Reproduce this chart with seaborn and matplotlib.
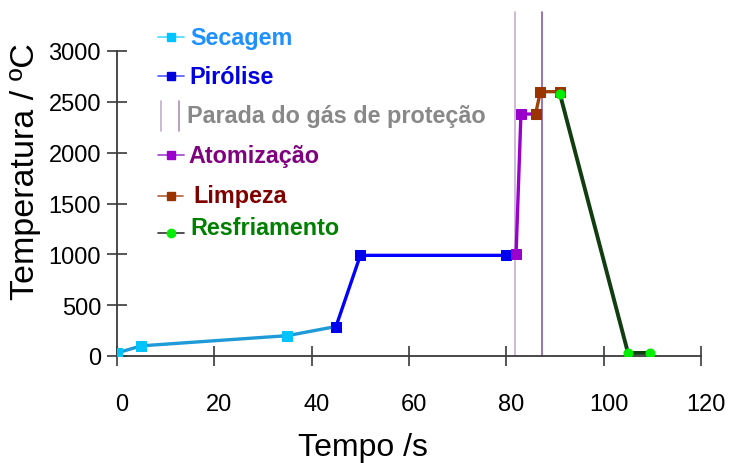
import matplotlib
matplotlib.use("Agg")
import matplotlib.pyplot as plt
from matplotlib.lines import Line2D
from matplotlib.transforms import ScaledTranslation
import seaborn as sns
import pandas as pd

# Furnace temperature program (time in s, temperature in °C)
secagem_t = [0, 5, 35, 45]
secagem_T = [30, 100, 200, 290]
pirolise_t = [45, 50, 80]
pirolise_T = [290, 990, 990]
atomizacao_t = [82, 83, 86]
atomizacao_T = [1000, 2380, 2380]
limpeza_t = [86, 87, 91]
limpeza_T = [2380, 2600, 2600]
resfriamento_t = [91, 105, 109.5]
resfriamento_T = [2580, 30, 30]
# Protective gas stop markers
gas_stop_t = [81.7, 87.3]

x_ticks = [0, 20, 40, 60, 80, 100, 120]
y_ticks = [0, 500, 1000, 1500, 2000, 2500, 3000]

sns.set_style("white")
plt.rcParams["font.family"] = ["Liberation Sans", "DejaVu Sans"]

W, H = 733, 464
fig = plt.figure(figsize=(W / 100, H / 100), dpi=100)
ax = fig.add_axes([117 / W, 1 - 357 / H, (701 - 117) / W, (357 - 52) / H])

def seg(t, T, line_color, mk, mk_color, ms=7, lw=2.4):
    df = pd.DataFrame({"t": t, "T": T})
    sns.lineplot(data=df, x="t", y="T", ax=ax, color=line_color, lw=lw,
                 marker=mk, markersize=ms, markerfacecolor=mk_color,
                 markeredgecolor=mk_color, sort=False, estimator=None,
                 zorder=3)

# vertical lines for stop of protective gas
ax.plot([gas_stop_t[0]] * 2, [0, 3380], color="#c4aed0", lw=1.2,
        clip_on=False, zorder=2)
ax.plot([gas_stop_t[1]] * 2, [0, 3380], color="#8c5aa8", lw=1.2,
        clip_on=False, zorder=2)

seg(secagem_t, secagem_T, "#1e9ad6", "s", "#00c4ff")
seg(pirolise_t, pirolise_T, "#0000ff", "s", "#0000ee")
seg(atomizacao_t, atomizacao_T, "#9a00cc", "s", "#9a00cc")
seg(limpeza_t, limpeza_T, "#a0400a", "s", "#993300")
seg(resfriamento_t, resfriamento_T, "#113d11", "o", "#00ee00", ms=6.5, lw=2.8)

ax.set_xlim(0, 120)
ax.set_ylim(0, 3000)
ax.set_xticks(x_ticks)
ax.set_yticks(y_ticks)
ax.set_xticklabels([str(v) for v in x_ticks])
ax.set_yticklabels([str(v) for v in y_ticks])
ax.tick_params(axis="both", direction="inout", length=15, width=1.2,
               color="#3a3a3a", labelsize=17, labelcolor="black",
               bottom=True, left=True)
ax.tick_params(axis="x", pad=19)
ax.tick_params(axis="y", pad=4)
shift = ScaledTranslation(5 / 100, 0, fig.dpi_scale_trans)
for lbl in ax.get_xticklabels():
    lbl.set_transform(lbl.get_transform() + shift)
for s in ["top", "right"]:
    ax.spines[s].set_visible(False)
for s in ["left", "bottom"]:
    ax.spines[s].set_color("#3a3a3a")
    ax.spines[s].set_linewidth(1.3)

ax.set_xlabel("Tempo /s", fontsize=23, color="black")
ax.set_ylabel("Temperatura / ºC", fontsize=24.5, color="black")
ax.xaxis.set_label_coords(0.421, -0.30)
ax.xaxis.label.set_va("center")
ax.yaxis.set_label_coords(-0.157, 0.607)
ax.yaxis.label.set_va("center")

# Legend drawn in figure pixel coordinates
def fx(px):
    return px / W

def fy(py):
    return 1 - py / H

def key_line(y, lc, mk, mc, x0=158, x1=184):
    fig.add_artist(Line2D([fx(x0), fx(x1)], [fy(y), fy(y)], color=lc, lw=1.2))
    fig.add_artist(Line2D([fx((x0 + x1) / 2)], [fy(y)], marker=mk, ms=6,
                          color=mc, markeredgecolor=mc, lw=0))

def key_text(x, y, s, c):
    fig.text(fx(x), fy(y), s, color=c, fontsize=16.8, fontweight="bold",
             va="center", ha="left")

key_line(38, "#44ddff", "s", "#00c4ff")
key_text(190, 39, "Secagem", "#1e90ff")
key_line(77, "#5555ff", "s", "#0000dd")
key_text(189, 77, "Pirólise", "#0000e0")
fig.add_artist(Line2D([fx(161), fx(161)], [fy(102), fy(132)], color="#c0aed0", lw=1.2))
fig.add_artist(Line2D([fx(179), fx(179)], [fy(102), fy(132)], color="#a890b8", lw=1.2))
key_text(187, 117, "Parada do gás de proteção", "#888888")
key_line(156, "#a040d0", "s", "#9a00cc")
key_text(188, 157, "Atomização", "#800080")
key_line(197, "#b0603a", "s", "#993300", x1=183)
key_text(193, 197, "Limpeza", "#800000")
key_line(234, "#333333", "o", "#00ee00")
key_text(190, 229, "Resfriamento", "#008000")

fig.savefig("out.png", dpi=100)
